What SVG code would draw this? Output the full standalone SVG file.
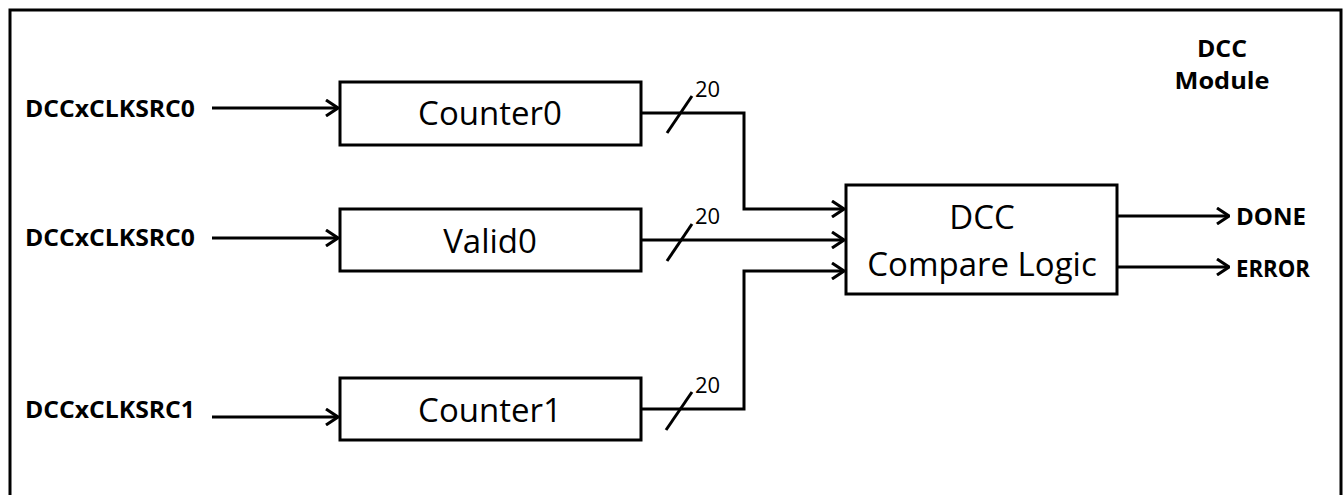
<svg xmlns="http://www.w3.org/2000/svg" width="1343" height="495" viewBox="0 0 1343 495">
<style>
.box{fill:#fff;stroke:#000;stroke-width:3}
.wire{fill:none;stroke:#000;stroke-width:3}
.lbl{font-family:"Open Sans","Liberation Sans",sans-serif;font-weight:bold;font-size:24px;fill:#000}
.big{font-family:"Open Sans","Liberation Sans",sans-serif;font-size:33px;fill:#000;text-anchor:middle}
.num{font-family:"Open Sans","Liberation Sans",sans-serif;font-size:22px;fill:#000}
</style>
<defs>
<marker id="arr" viewBox="0 0 14 18" refX="13" refY="9" markerWidth="14" markerHeight="18" markerUnits="userSpaceOnUse" orient="auto">
<path d="M1,1 L13,9 L1,17" fill="none" stroke="#000" stroke-width="3"/>
</marker>
</defs>
<rect x="10" y="10" width="1331" height="500" fill="none" stroke="#000" stroke-width="3"/>
<g id="module-label">
<text class="lbl" x="1222" y="57" text-anchor="middle" textLength="50" lengthAdjust="spacingAndGlyphs">DCC</text>
<text class="lbl" x="1222" y="89" text-anchor="middle" textLength="95" lengthAdjust="spacingAndGlyphs">Module</text>
</g>
<g id="in0"><text class="lbl" x="25" y="117" textLength="170" lengthAdjust="spacingAndGlyphs">DCCxCLKSRC0</text></g>
<g id="in1"><text class="lbl" x="25" y="246" textLength="170" lengthAdjust="spacingAndGlyphs">DCCxCLKSRC0</text></g>
<g id="in2"><text class="lbl" x="25" y="418" textLength="170" lengthAdjust="spacingAndGlyphs">DCCxCLKSRC1</text></g>
<g id="counter0">
<rect class="box" x="340" y="82" width="301" height="63"/>
<text class="big" x="490" y="125">Counter0</text>
</g>
<g id="valid0">
<rect class="box" x="340" y="209" width="301" height="62"/>
<text class="big" x="490" y="253">Valid0</text>
</g>
<g id="counter1">
<rect class="box" x="340" y="378" width="301" height="62"/>
<text class="big" x="490" y="422">Counter1</text>
</g>
<g id="compare">
<rect class="box" x="846" y="185" width="271" height="109"/>
<text class="big" x="982" y="229">DCC</text>
<text class="big" x="982" y="276">Compare Logic</text>
</g>
<g id="done"><text class="lbl" x="1236" y="225" textLength="70" lengthAdjust="spacingAndGlyphs">DONE</text></g>
<g id="error"><text class="lbl" x="1236" y="277" textLength="74" lengthAdjust="spacingAndGlyphs">ERROR</text></g>
<g id="connectors">
<line class="wire" x1="212" y1="108" x2="338" y2="108" marker-end="url(#arr)"/>
<line class="wire" x1="212" y1="238" x2="338" y2="238" marker-end="url(#arr)"/>
<line class="wire" x1="212" y1="417" x2="338" y2="417" marker-end="url(#arr)"/>
<polyline class="wire" points="641,113 744,113 744,209 844,209" marker-end="url(#arr)"/>
<line class="wire" x1="641" y1="240" x2="844" y2="240" marker-end="url(#arr)"/>
<polyline class="wire" points="641,409 744,409 744,271 844,271" marker-end="url(#arr)"/>
<line class="wire" x1="1117" y1="216" x2="1229" y2="216" marker-end="url(#arr)"/>
<line class="wire" x1="1117" y1="267" x2="1229" y2="267" marker-end="url(#arr)"/>
<line class="wire" x1="667" y1="133" x2="692" y2="96"/>
<line class="wire" x1="667" y1="261" x2="692" y2="224"/>
<line class="wire" x1="666" y1="430" x2="692" y2="392"/>
</g>
<g id="bus-widths">
<text class="num" x="695" y="97">20</text>
<text class="num" x="695" y="224">20</text>
<text class="num" x="695" y="393">20</text>
</g>
</svg>
